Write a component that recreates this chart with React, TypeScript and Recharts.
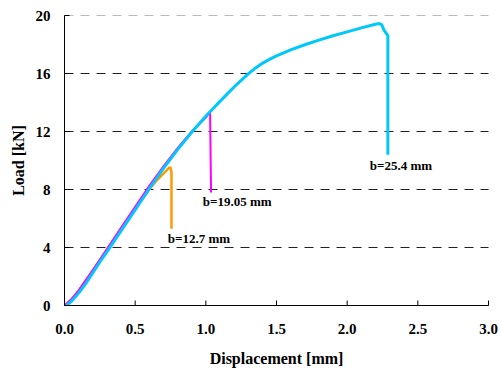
import React from 'react';
import { LineChart, Line, XAxis, YAxis, ReferenceLine, ReferenceDot } from 'recharts';

const FONT = '"Liberation Serif", "Times New Roman", serif';

const xTicks = [0, 0.5, 1, 1.5, 2, 2.5, 3];
const yTicks = [0, 4, 8, 12, 16, 20];
const darkGrid = [4, 8, 12, 16];
const lightGrid = [20];

// b = 25.4 mm
const b254X = [0.015, 0.05, 0.1, 0.15, 0.2, 0.25, 0.3, 0.4, 0.5, 0.6, 0.7, 0.8, 0.9, 1.0, 1.05, 1.1, 1.15, 1.2, 1.25, 1.3, 1.35, 1.4, 1.45, 1.5, 1.6, 1.7, 1.8, 1.9, 2.0, 2.1, 2.2, 2.225, 2.245, 2.26, 2.278, 2.288, 2.288];
const b254Y = [0, 0.3, 0.85, 1.5, 2.25, 3.0, 3.7, 5.15, 6.6, 8.05, 9.45, 10.75, 11.95, 13.05, 13.57, 14.08, 14.58, 15.07, 15.53, 15.97, 16.37, 16.7, 16.98, 17.22, 17.63, 17.98, 18.3, 18.6, 18.87, 19.15, 19.4, 19.45, 19.35, 19.0, 18.75, 18.6, 10.4];

// b = 19.05 mm
const b1905X = [0, 0.05, 0.1, 0.2, 0.3, 0.4, 0.5, 0.6, 0.7, 0.8, 0.9, 1.0, 1.025, 1.03, 1.037];
const b1905Y = [0, 0.45, 1.05, 2.45, 3.9, 5.35, 6.8, 8.25, 9.6, 10.85, 12.0, 12.95, 13.3, 13.3, 7.8];

// b = 12.7 mm
const b127X = [0, 0.05, 0.1, 0.2, 0.3, 0.4, 0.5, 0.6, 0.65, 0.7, 0.74, 0.75, 0.757, 0.757];
const b127Y = [0, 0.4, 1.0, 2.4, 3.85, 5.3, 6.7, 8.0, 8.6, 9.1, 9.5, 9.5, 9.2, 5.3];

const zip = (xs: number[], ys: number[]) => xs.map((x, i) => ({ x, y: ys[i] }));
const d254 = zip(b254X, b254Y);
const d1905 = zip(b1905X, b1905Y);
const d127 = zip(b127X, b127Y);

const tickStyle = { fontFamily: FONT, fontSize: 15, fontWeight: 'bold', fill: '#000' };
const annStyle = { fontFamily: FONT, fontSize: 13, fontWeight: 'bold', fill: '#000' };

const YTitle = (props: any) => {
  const vb = props.viewBox || {};
  const cx = 19;
  const cy = vb.y + vb.height / 2;
  return (
    <text x={cx} y={cy} transform={`rotate(-90 ${cx} ${cy})`} textAnchor="middle" dy={5}
      style={{ fontFamily: FONT, fontSize: 16, fontWeight: 'bold' }} fill="#000">Load [kN]</text>
  );
};

const XTitle = (props: any) => {
  const vb = props.viewBox || {};
  const cx = vb.x + vb.width / 2;
  const cy = vb.y + 53;
  return (
    <text x={cx} y={cy} textAnchor="middle" dy={5}
      style={{ fontFamily: FONT, fontSize: 16, fontWeight: 'bold' }} fill="#000">Displacement [mm]</text>
  );
};

const Ann = (text: string) => (props: any) => {
  const vb = props.viewBox || {};
  const cx = vb.x + (vb.width || 0) / 2;
  const cy = vb.y + (vb.height || 0) / 2;
  return (
    <text x={cx} y={cy} textAnchor="middle" dy={4.5} style={annStyle} fill="#000">{text}</text>
  );
};

export default function App() {
  return (
    <div style={{ position: 'absolute', left: 0, top: 0, width: 501, height: 370 }}>
      <LineChart width={501} height={370} margin={{ top: 15.5, right: 12.5, left: 14.5, bottom: 24.5 }}>
        {darkGrid.map((v) => (
          <ReferenceLine key={v} y={v} stroke="#222" strokeWidth={1} strokeDasharray="9 7" />
        ))}
        {lightGrid.map((v) => (
          <ReferenceLine key={v} y={v} stroke="#bbb" strokeWidth={1} strokeDasharray="9 7" />
        ))}
        <XAxis type="number" dataKey="x" domain={[0, 3]} ticks={xTicks} allowDataOverflow
          tickFormatter={(v: number) => v.toFixed(1)} height={40}
          stroke="#000" tickSize={-5} tickMargin={23} tick={tickStyle}
          axisLine={{ stroke: '#000' }} tickLine={{ stroke: '#000' }}
          label={<XTitle />} />
        <YAxis type="number" domain={[0, 20]} ticks={yTicks} width={50} allowDataOverflow
          stroke="#000" tickSize={-5} tickMargin={19} tick={tickStyle}
          axisLine={{ stroke: '#000' }} tickLine={{ stroke: '#000' }}
          label={<YTitle />} />
        <Line data={d127} dataKey="y" type="linear" stroke="#ff9900" strokeWidth={2.5} dot={false} isAnimationActive={false} />
        <Line data={d1905} dataKey="y" type="linear" stroke="#ff00ff" strokeWidth={2} dot={false} isAnimationActive={false} />
        <Line data={d254} dataKey="y" type="linear" stroke="#00c8fa" strokeWidth={3} dot={false} isAnimationActive={false} />
        <ReferenceDot x={0.951} y={4.62} r={0} fill="none" stroke="none" label={Ann('b=12.7 mm')} />
        <ReferenceDot x={1.222} y={7.19} r={0} fill="none" stroke="none" label={Ann('b=19.05 mm')} />
        <ReferenceDot x={2.381} y={9.68} r={0} fill="none" stroke="none" label={Ann('b=25.4 mm')} />
      </LineChart>
    </div>
  );
}
